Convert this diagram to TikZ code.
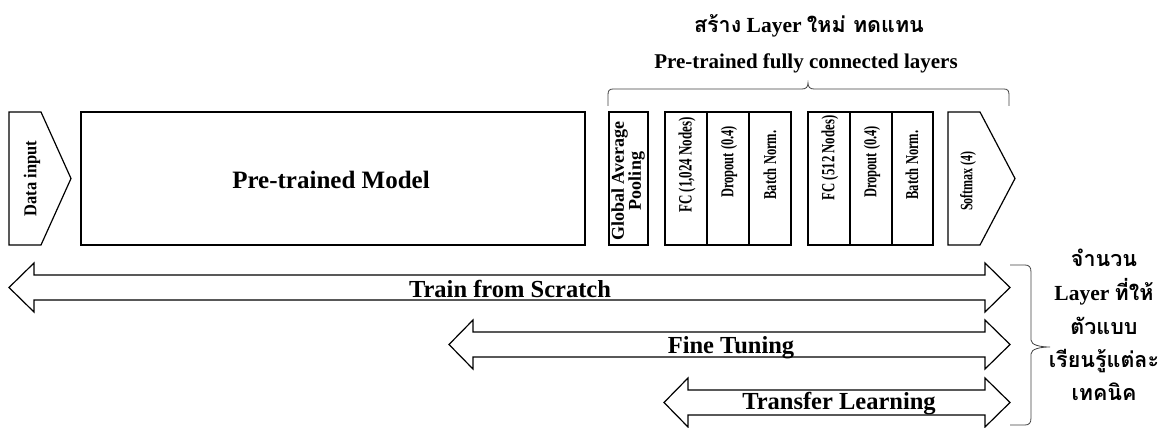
\documentclass[tikz,border=0pt]{standalone}
\usepackage{fontspec}
\setmainfont{Liberation Serif}
\newfontfamily\thai[Script=Thai]{Loma}
\newcommand\sz[1]{\fontsize{#1}{#1}\selectfont}
\begin{document}
\begin{tikzpicture}[x=1pt,y=-1pt,
  blk/.style={draw=black, line width=1.2pt, line join=miter},
  brc/.style={draw=black!75, line width=0.8pt},
  txt/.style={inner sep=0pt, font=\bfseries},
  vtxt/.style={inner sep=0pt, rotate=90, yscale=1.45},
]
\useasboundingbox (0,0) rectangle (1171,428);
% blocks
\draw[blk] (9,112) -- (41,112) -- (71,178.5) -- (41,245) -- (9,245) -- cycle;
\draw[blk] (81,112) rectangle (585,245);
\draw[blk] (609,112) rectangle (648,245);
\draw[blk] (665,112) rectangle (791,245);
\draw[blk] (707,112) -- (707,245);
\draw[blk] (749,112) -- (749,245);
\draw[blk] (808,112) rectangle (933,245);
\draw[blk] (850,112) -- (850,245);
\draw[blk] (892,112) -- (892,245);
\draw[blk] (948,112) -- (980,112) -- (1015,178.5) -- (980,245) -- (948,245) -- cycle;
% block labels
\node[inner sep=0pt, rotate=90, yscale=1.1, font=\bfseries\sz{16.5}] (din) at (32,178.5) {Data input};
\node[txt, anchor=base] (ptm) at (331,188) {\sz{25}Pre-trained Model};
\node[inner sep=0pt, rotate=90, align=center, font=\bfseries\fontsize{18}{17}\selectfont] (gap) at (628,181) {Global Average\\ Pooling};
\node[vtxt, font=\bfseries\sz{13}] (fc1) at (687,165) {FC (1,024 Nodes)};
\node[vtxt, font=\bfseries\sz{12.5}] (do1) at (729,162) {Dropout (0.4)};
\node[vtxt, font=\bfseries\sz{12.5}] (bn1) at (770,165) {Batch Norm.};
\node[vtxt, font=\bfseries\sz{12.8}] (fc2) at (830,158) {FC (512 Nodes)};
\node[vtxt, font=\bfseries\sz{12.5}] (do2) at (872,162) {Dropout (0.4)};
\node[vtxt, font=\bfseries\sz{12.5}] (bn2) at (912,165) {Batch Norm.};
\node[vtxt, font=\bfseries\sz{12}] (sm) at (968,181) {Softmax (4)};
% top brace and titles
\draw[brc] (608,106) -- (608,95) .. controls (608,91) and (609,89) .. (613,89) -- (802,89)
  .. controls (806,89) and (808,87) .. (808,83) .. controls (808,87) and (810,89) .. (814,89)
  -- (1004,89) .. controls (1008,89) and (1009,91) .. (1009,95) -- (1009,106);
\node[txt, anchor=base] (sub) at (806,69) {\sz{21}Pre-trained fully connected layers};
\node[txt, anchor=base] (head) at (809,33) {\sz{21.5}{\thai สร้าง} Layer {\thai ใหม่ ทดแทน}};
% double arrows
\draw[blk, fill=white] (9,287.5) -- (34,263) -- (34,275) -- (985,275) -- (985,263) -- (1010,287.5)
  -- (985,312) -- (985,300) -- (34,300) -- (34,312) -- cycle;
\draw[blk, fill=white] (449,344.5) -- (473,320) -- (473,332) -- (985,332) -- (985,320) -- (1010,344.5)
  -- (985,369) -- (985,357) -- (473,357) -- (473,369) -- cycle;
\draw[blk, fill=white] (664,402.5) -- (688,378) -- (688,390) -- (985,390) -- (985,378) -- (1010,402.5)
  -- (985,427) -- (985,415) -- (688,415) -- (688,427) -- cycle;
\node[txt, anchor=base] (tfs) at (510,297) {\sz{24.5}Train from Scratch};
\node[txt, anchor=base] (ft) at (731,353) {\sz{24.5}Fine Tuning};
\node[txt, anchor=base] (tl) at (839,409) {\sz{24.5}Transfer Learning};
% right brace and note
\draw[brc] (1010,265) -- (1025,265) .. controls (1029,265) and (1031,267) .. (1031,272) -- (1031,340)
  .. controls (1031,345) and (1040,347) .. (1050,347) .. controls (1040,347) and (1031,349) .. (1031,354)
  -- (1031,418) .. controls (1031,423) and (1029,425) .. (1025,425) -- (1010,425);
\node[txt, anchor=base] (n1) at (1104,266) {\sz{21.5}\thai จำนวน};
\node[txt, anchor=base] (n2) at (1104,300) {\sz{21.5}Layer {\thai ที่ให้}};
\node[txt, anchor=base] (n3) at (1104,334) {\sz{21.5}\thai ตัวแบบ};
\node[txt, anchor=base] (n4) at (1104,367) {\sz{21.5}\thai เรียนรู้แต่ละ};
\node[txt, anchor=base] (n5) at (1104,400) {\sz{21.5}\thai เทคนิค};
\end{tikzpicture}
\end{document}
